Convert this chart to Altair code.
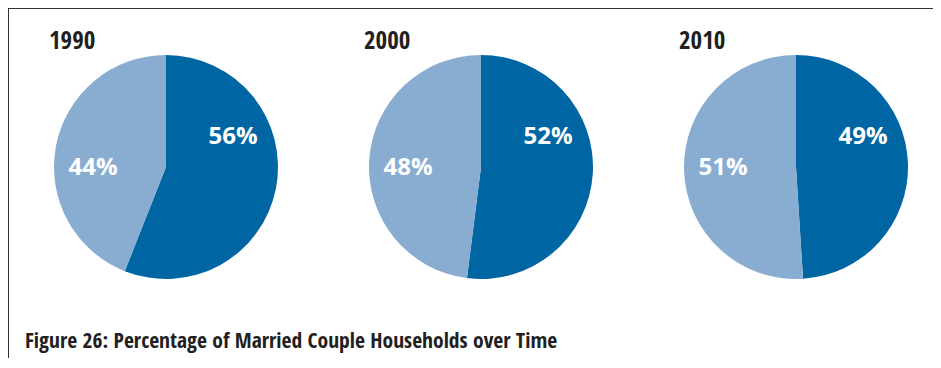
import math
import altair as alt
import pandas as pd

years = ["1990", "2000", "2010"]
married = [56, 52, 49]
other = [44, 48, 51]
groups = ["Married", "Other"]
caption = "Figure 26: Percentage of Married Couple Households over Time"

rows = []
for i, yr in enumerate(years):
    rows.append({"year": yr, "group": groups[0], "value": married[i], "order": 0})
    rows.append({"year": yr, "group": groups[1], "value": other[i], "order": 1})
df = pd.DataFrame(rows)
labels_df = pd.DataFrame({"year": years})
cap_df = pd.DataFrame({"caption": [caption]})

W, H = 925, 350
CX = 159
xscale = alt.Scale(type="point", domain=years, range=[158, 788], padding=0)

base = (
    alt.Chart(df)
    .transform_joinaggregate(total="sum(value)", groupby=["year"])
    .transform_window(cum="sum(value)", groupby=["year"], sort=[alt.SortField("order")], frame=[None, 0])
    .transform_calculate(
        t_end="datum.cum / datum.total",
        t_start="(datum.cum - datum.value) / datum.total",
        label="datum.value + '%'",
    )
)

arcs = base.mark_arc(outerRadius=112).encode(
    x=alt.X("year:N", scale=xscale, axis=None),
    y=alt.value(CX),
    theta=alt.Theta("t_start:Q", scale=alt.Scale(domain=[0, 1], range=[0, 2 * math.pi]), stack=None),
    theta2="t_end:Q",
    color=alt.Color("group:N", scale=alt.Scale(domain=groups, range=["#0066A3", "#88ADD1"]), legend=None),
)

label_font = "Open Sans"
lab_m = base.transform_filter(alt.datum.group == groups[0]).mark_text(
    font=label_font, fontSize=24, fontWeight="bold", color="white", dx=67, dy=-30, baseline="middle", align="center"
).encode(x=alt.X("year:N", scale=xscale, axis=None), y=alt.value(CX), text="label:N")

lab_o = base.transform_filter(alt.datum.group == groups[1]).mark_text(
    font=label_font, fontSize=24, fontWeight="bold", color="white", dx=-73, dy=1, baseline="middle", align="center"
).encode(x=alt.X("year:N", scale=xscale, axis=None), y=alt.value(CX), text="label:N")

title_font = "Noto Sans Condensed, Open Sans Condensed, Roboto Condensed, Liberation Sans Narrow, Arial Narrow, Liberation Sans, sans-serif"
year_titles = alt.Chart(labels_df).mark_text(
    font=title_font, fontSize=25, fontWeight="bold", color="#231F20", align="left", baseline="alphabetic", dx=-117
).encode(x=alt.X("year:N", scale=xscale, axis=None), y=alt.value(41), text="year:N")

cap = alt.Chart(cap_df).mark_text(
    font=title_font, fontSize=21.6, fontWeight="bold", color="#231F20", align="left", baseline="alphabetic"
).encode(x=alt.value(17), y=alt.value(340), text="caption:N")

border_top = alt.Chart(labels_df).mark_rule(color="#333333", strokeWidth=2).encode(
    x=alt.value(0), x2=alt.value(W), y=alt.value(0)
)
border_left = alt.Chart(labels_df).mark_rule(color="#333333", strokeWidth=2).encode(
    x=alt.value(0), y=alt.value(0), y2=alt.value(H)
)

chart = (
    alt.layer(border_top, border_left, arcs, lab_m, lab_o, year_titles, cap)
    .properties(width=W, height=H, padding=0, autosize=alt.AutoSizeParams(type="none"))
    .configure_view(stroke=None)
)

chart.save("out.html", embed_options={"renderer": "svg", "actions": False})
